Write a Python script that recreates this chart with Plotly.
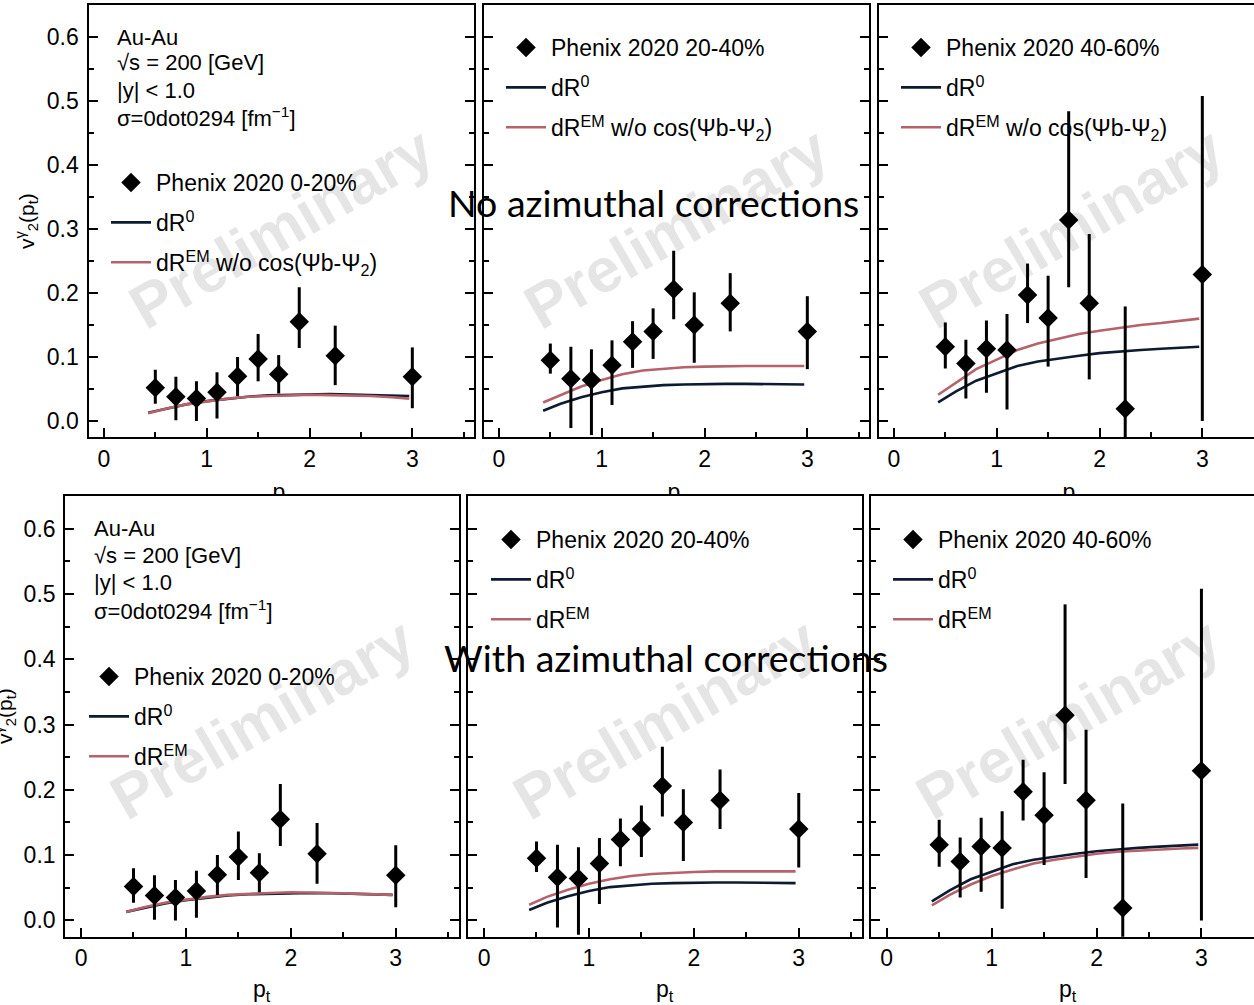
import plotly.graph_objects as go

W, H = 1254, 1005

# ---------------- data ----------------
pt_data = [0.5, 0.7, 0.9, 1.1, 1.3, 1.5, 1.7, 1.9, 2.25, 3.0]

v2_0_20 = [0.052, 0.038, 0.035, 0.045, 0.070, 0.097, 0.073, 0.155, 0.102, 0.069]
err_up_0_20 = [0.028, 0.031, 0.027, 0.031, 0.030, 0.039, 0.030, 0.054, 0.047, 0.046]
err_dn_0_20 = [0.025, 0.037, 0.035, 0.041, 0.031, 0.035, 0.030, 0.041, 0.046, 0.049]

v2_20_40 = [0.095, 0.066, 0.064, 0.087, 0.124, 0.140, 0.206, 0.150, 0.184, 0.140]
err_up_20_40 = [0.026, 0.050, 0.048, 0.039, 0.032, 0.036, 0.060, 0.051, 0.047, 0.055]
err_dn_20_40 = [0.021, 0.077, 0.086, 0.062, 0.041, 0.043, 0.047, 0.059, 0.044, 0.059]

v2_40_60 = [0.116, 0.090, 0.113, 0.111, 0.197, 0.161, 0.314, 0.184, 0.019, 0.229]
err_up_40_60 = [0.038, 0.037, 0.044, 0.056, 0.049, 0.066, 0.170, 0.108, 0.160, 0.279]
err_dn_40_60 = [0.034, 0.055, 0.069, 0.093, 0.044, 0.076, 0.105, 0.119, 0.160, 0.229]

pt_model = [0.43, 0.6, 0.8, 1.0, 1.2, 1.4, 1.6, 1.8, 2.0, 2.2, 2.4, 2.6, 2.8, 2.97]

dR0_0_20 = [0.013, 0.019, 0.026, 0.031, 0.035, 0.038, 0.040, 0.041, 0.042, 0.042, 0.0415, 0.041, 0.040, 0.039]
dR0_20_40 = [0.016, 0.027, 0.037, 0.045, 0.051, 0.054, 0.056, 0.057, 0.058, 0.058, 0.058, 0.058, 0.058, 0.057]
dR0_40_60 = [0.029, 0.046, 0.063, 0.075, 0.086, 0.093, 0.098, 0.102, 0.106, 0.109, 0.111, 0.113, 0.115, 0.116]

# dR^EM without cos(Psi_b - Psi_2)  (top row)
dREM_nocos_0_20 = [0.012, 0.019, 0.026, 0.031, 0.035, 0.038, 0.039, 0.040, 0.041, 0.0405, 0.040, 0.039, 0.037, 0.035]
dREM_nocos_20_40 = [0.029, 0.040, 0.054, 0.064, 0.073, 0.079, 0.082, 0.084, 0.085, 0.086, 0.086, 0.086, 0.086, 0.086]
dREM_nocos_40_60 = [0.041, 0.060, 0.081, 0.096, 0.111, 0.121, 0.129, 0.136, 0.141, 0.146, 0.150, 0.153, 0.157, 0.160]

# dR^EM with azimuthal corrections (bottom row)
dREM_0_20 = [0.013, 0.020, 0.027, 0.032, 0.036, 0.039, 0.041, 0.042, 0.043, 0.043, 0.042, 0.041, 0.040, 0.039]
dREM_20_40 = [0.024, 0.036, 0.047, 0.056, 0.063, 0.068, 0.071, 0.073, 0.074, 0.075, 0.075, 0.075, 0.075, 0.075]
dREM_40_60 = [0.023, 0.039, 0.055, 0.068, 0.078, 0.087, 0.093, 0.098, 0.102, 0.105, 0.107, 0.108, 0.110, 0.111]

centralities = ["0-20%", "20-40%", "40-60%"]
x_ticks = [0, 1, 2, 3]
info_lines = ["Au-Au", "\u221as = 200 [GeV]", "|y| < 1.0", "\u03c3=0dot0294 [fm<sup>\u22121</sup>]"]

NAVY = "#0d1b30"
RED = "#b5626b"
FONT = "Liberation Sans, Arial, Helvetica, sans-serif"

def fx(px):
    return px / W

def fy(py):
    return 1 - py / H

fig = go.Figure()

data_sets = [
    (v2_0_20, err_up_0_20, err_dn_0_20),
    (v2_20_40, err_up_20_40, err_dn_20_40),
    (v2_40_60, err_up_40_60, err_dn_40_60),
]
dR0_sets = [dR0_0_20, dR0_20_40, dR0_40_60]
rows = [
    dict(rem=[dREM_nocos_0_20, dREM_nocos_20_40, dREM_nocos_40_60],
         remname="dR<sup>EM</sup> w/o cos(\u03a8b-\u03a8<sub>2</sub>)"),
    dict(rem=[dREM_0_20, dREM_20_40, dREM_40_60],
         remname="dR<sup>EM</sup>"),
]

# panel geometry (pixels)
top_y = (5, 437)
bot_y = (496, 936.7)
top_x = [(88.5, 474), (483.5, 869), (878.5, 1254)]
bot_x = [(65.3, 458.7), (468.3, 861.7), (871, 1254)]
top_ppu = 102.8
bot_ppu = 104.9

# legend positions: (line start x, first row center y)
leg_pos = [[(112, 183), (507, 48), (902, 48)],
           [(90, 677), (492, 540), (894, 540)]]

idx = 0
for r, row in enumerate(rows):
    ypx = top_y if r == 0 else bot_y
    xpxs = top_x if r == 0 else bot_x
    ppu = top_ppu if r == 0 else bot_ppu
    for c in range(3):
        idx += 1
        xa = "x" if idx == 1 else f"x{idx}"
        ya = "y" if idx == 1 else f"y{idx}"
        lg = "legend" if idx == 1 else f"legend{idx}"
        vals, eu, ed = data_sets[c]
        fig.add_trace(go.Scatter(
            x=pt_model, y=dR0_sets[c], mode="lines", name="dR<sup>0</sup>",
            line=dict(color=NAVY, width=2.6), xaxis=xa, yaxis=ya, legend=lg,
            legendgroup=f"b{idx}", legendrank=2))
        fig.add_trace(go.Scatter(
            x=pt_model, y=row["rem"][c], mode="lines", name=row["remname"],
            line=dict(color=RED, width=2.6), xaxis=xa, yaxis=ya, legend=lg,
            legendgroup=f"c{idx}", legendrank=3))
        fig.add_trace(go.Scatter(
            x=pt_data, y=vals, mode="markers", name=f"Phenix 2020 {centralities[c]}",
            marker=dict(symbol="diamond", size=15, color="black"),
            error_y=dict(type="data", symmetric=False, array=eu, arrayminus=ed,
                         color="black", thickness=3, width=0),
            xaxis=xa, yaxis=ya, legend=lg, legendgroup=f"a{idx}", legendrank=1))

        x0, x1 = xpxs[c]
        xr_hi = -0.15 + (x1 - x0) / ppu
        last = (c == 2)
        xkey = "xaxis" if idx == 1 else f"xaxis{idx}"
        ykey = "yaxis" if idx == 1 else f"yaxis{idx}"
        fig.layout[xkey] = dict(
            domain=[fx(x0), fx(x1)], range=[-0.15, xr_hi], anchor=ya,
            tickvals=x_ticks, ticktext=[str(v) for v in x_ticks],
            ticks="inside", ticklen=9, tickwidth=1.8, tickcolor="black",
            minor=dict(dtick=0.5, tick0=0, ticks="inside", ticklen=5, tickwidth=1.5, tickcolor="black"),
            showline=True, linecolor="black", linewidth=2.2, mirror=True,
            showgrid=False, zeroline=False, ticklabelstandoff=0,
            tickfont=dict(family=FONT, size=23, color="black"))
        fig.layout[ykey] = dict(
            domain=[fy(ypx[1]), fy(ypx[0])], range=[-0.025, 0.65], anchor=xa,
            dtick=0.1, tick0=0, tickformat=".1f",
            ticks="inside", ticklen=9, tickwidth=1.8, tickcolor="black",
            minor=dict(dtick=0.05, ticks="inside", ticklen=5, tickwidth=1.5, tickcolor="black"),
            showline=True, linecolor="black", linewidth=2.2,
            mirror=(False if last else "ticks"),
            showticklabels=(c == 0), showgrid=False, zeroline=False,
            ticklabelstandoff=3,
            tickfont=dict(family=FONT, size=23, color="black"))
        lx, ly = leg_pos[r][c]
        fig.layout[lg] = dict(
            x=fx(lx - 6), y=fy(ly - 22), xanchor="left", yanchor="top",
            bgcolor="rgba(0,0,0,0)", borderwidth=0, itemwidth=40,
            tracegroupgap=7, traceorder="grouped",
            font=dict(family=FONT, size=23, color="black"))

        # watermark
        cx = (x0 + (x0 + 3.75 * ppu)) / 2
        cy = ypx[0] + 222
        fig.add_annotation(
            text="<b>Preliminary</b>", xref="paper", yref="paper",
            x=fx(cx), y=fy(cy), xanchor="center", yanchor="middle",
            showarrow=False, textangle=-30,
            font=dict(family=FONT, size=62, color="rgba(0,0,0,0.10)"))

        # bottom x titles
        if r == 1:
            fig.add_annotation(
                text="p<sub>t</sub>", xref="paper", yref="paper",
                x=fx(cx), y=fy(990), xanchor="center", yanchor="middle",
                showarrow=False, font=dict(family=FONT, size=23, color="black"))

# top-row x titles, partly hidden behind the lower panels (clipped overlay axes)
fig.add_trace(go.Scatter(
    x=[(88.5 + 474) / 2, (483.5 + 869) / 2, (878.5 + 878.5 + 3.75 * top_ppu) / 2],
    y=[494, 494, 494], mode="text", text=["p<sub>t</sub>"] * 3,
    textfont=dict(family=FONT, size=23, color="black"), textposition="middle center",
    xaxis="x7", yaxis="y7", showlegend=False, cliponaxis=True, hoverinfo="skip"))
fig.layout["xaxis7"] = dict(domain=[0, 1], range=[0, W], visible=False, anchor="y7")
fig.layout["yaxis7"] = dict(domain=[fy(496), fy(470)], range=[496, 470], visible=False, anchor="x7")

# info text blocks (one annotation per line)
for (ix, iys) in [(115, [37, 63, 90, 117]), (92, [528, 555, 582, 610])]:
    for line, iy in zip(info_lines, iys):
        fig.add_annotation(text=line, xref="paper", yref="paper", x=fx(ix), y=fy(iy),
                           xanchor="left", yanchor="middle", align="left", showarrow=False,
                           font=dict(family=FONT, size=22, color="black"))

# y titles
ytitle = "v<sup>\u03b3</sup><sub>2</sub>(p<sub>t</sub>)"
for (tx, ty) in [(27, 221), (4, 716)]:
    fig.add_annotation(text=ytitle, xref="paper", yref="paper", x=fx(tx), y=fy(ty),
                       xanchor="center", yanchor="middle", textangle=-90, showarrow=False,
                       font=dict(family=FONT, size=21, color="black"))

# overlay slide captions
OV = "Lato, Open Sans, sans-serif"
fig.add_annotation(text="No azimuthal corrections", xref="paper", yref="paper",
                   x=fx(654), y=fy(202), xanchor="center", yanchor="middle", showarrow=False,
                   font=dict(family=OV, size=37.5, color="black"))
fig.add_annotation(text="With azimuthal corrections", xref="paper", yref="paper",
                   x=fx(666), y=fy(657), xanchor="center", yanchor="middle", showarrow=False,
                   font=dict(family=OV, size=37.5, color="black"))

fig.update_layout(width=W, height=H, margin=dict(l=0, r=0, t=0, b=0),
                  paper_bgcolor="white", plot_bgcolor="white", showlegend=True)

fig.write_html("out.html")
